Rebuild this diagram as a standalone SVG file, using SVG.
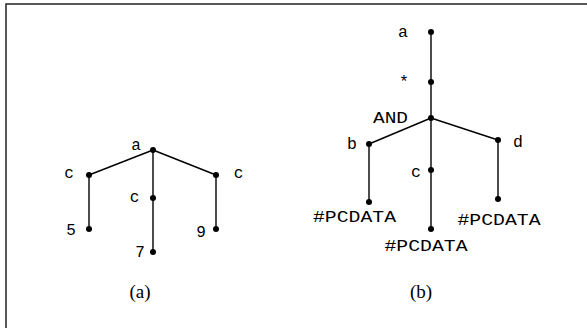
<svg xmlns="http://www.w3.org/2000/svg" width="587" height="328" viewBox="0 0 587 328">
<style>
.edge{stroke:#000;stroke-width:1.4;fill:none}
.dot{fill:#000}
.lbl{font-family:"Liberation Mono","DejaVu Sans Mono",monospace;font-size:16px;fill:#000;text-anchor:middle}
.lb{font-family:"Liberation Mono","DejaVu Sans Mono",monospace;font-size:16.5px;fill:#000;text-anchor:middle}
.cap{font-family:"Liberation Serif","DejaVu Serif",serif;font-size:19px;fill:#000;text-anchor:middle}
</style>
<rect width="587" height="328" fill="#fff"/>
<path d="M6,330 V4 H590" stroke="#222" stroke-width="1.5" fill="none"/>
<g id="connectors">
<line class="edge" x1="153" y1="150" x2="89" y2="175"/>
<line class="edge" x1="153" y1="150" x2="216" y2="175"/>
<line class="edge" x1="153" y1="150" x2="153" y2="252"/>
<line class="edge" x1="89" y1="175" x2="89" y2="229"/>
<line class="edge" x1="216" y1="175" x2="216" y2="229"/>
<line class="edge" x1="431" y1="32" x2="431" y2="229"/>
<line class="edge" x1="431" y1="118" x2="369" y2="144"/>
<line class="edge" x1="431" y1="118" x2="498" y2="140"/>
<line class="edge" x1="369" y1="144" x2="369" y2="202"/>
<line class="edge" x1="498" y1="140" x2="498" y2="199"/>
</g>
<g id="a_root"><circle class="dot" cx="153" cy="150" r="3"/><text class="lbl" x="136" y="150">a</text></g>
<g id="a_c1"><circle class="dot" cx="89" cy="175" r="3"/><text class="lbl" x="69" y="178">c</text></g>
<g id="a_c2"><circle class="dot" cx="153" cy="198" r="3"/><text class="lbl" x="134.5" y="202">c</text></g>
<g id="a_c3"><circle class="dot" cx="216" cy="175" r="3"/><text class="lbl" x="238.5" y="178">c</text></g>
<g id="a_5"><circle class="dot" cx="89" cy="229" r="3"/><text class="lbl" x="71" y="235">5</text></g>
<g id="a_7"><circle class="dot" cx="153" cy="252" r="3"/><text class="lbl" x="140" y="256.5">7</text></g>
<g id="a_9"><circle class="dot" cx="216" cy="229" r="3"/><text class="lbl" x="201" y="237">9</text></g>
<g id="b_a"><circle class="dot" cx="431" cy="32" r="3"/><text class="lb" x="403" y="37">a</text></g>
<g id="b_star"><circle class="dot" cx="431" cy="82" r="3"/><text class="lb" x="404" y="87">*</text></g>
<g id="b_and"><circle class="dot" cx="431" cy="118" r="3"/><text class="lb" x="390.5" y="123" textLength="35" lengthAdjust="spacingAndGlyphs">AND</text></g>
<g id="b_b"><circle class="dot" cx="369" cy="144" r="3"/><text class="lb" x="352" y="148.5">b</text></g>
<g id="b_d"><circle class="dot" cx="498" cy="140" r="3"/><text class="lb" x="518" y="147">d</text></g>
<g id="b_c"><circle class="dot" cx="431" cy="170" r="3"/><text class="lb" x="416" y="177">c</text></g>
<g id="b_pc1"><circle class="dot" cx="369" cy="202" r="3"/><text class="lb" x="354.5" y="222" textLength="83" lengthAdjust="spacingAndGlyphs">#PCDATA</text></g>
<g id="b_pc2"><circle class="dot" cx="431" cy="229" r="3"/><text class="lb" x="426" y="250.5" textLength="83" lengthAdjust="spacingAndGlyphs">#PCDATA</text></g>
<g id="b_pc3"><circle class="dot" cx="498" cy="199" r="3"/><text class="lb" x="499" y="225" textLength="83" lengthAdjust="spacingAndGlyphs">#PCDATA</text></g>
<text class="cap" x="140" y="298">(a)</text>
<text class="cap" x="421" y="298">(b)</text>
</svg>
